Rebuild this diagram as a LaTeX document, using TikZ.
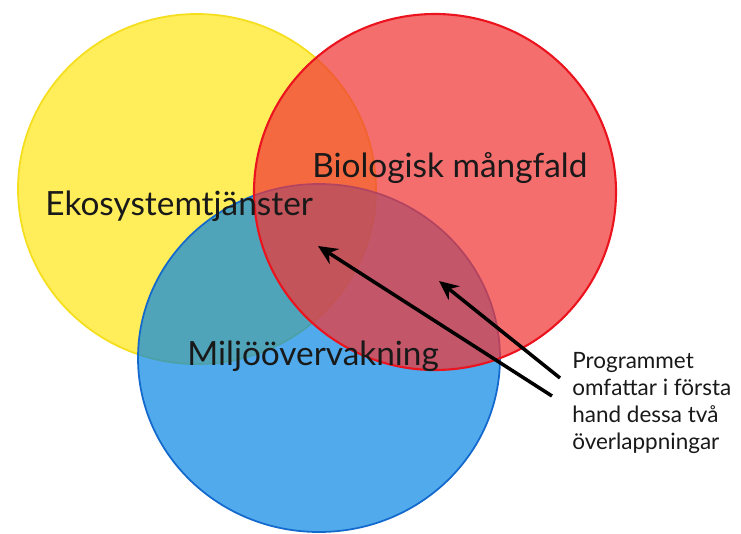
\documentclass[tikz,border=0pt]{standalone}
\usepackage{fontspec}
\setmainfont{Lato}
\usetikzlibrary{arrows.meta}
\definecolor{eko}{RGB}{255,238,90}
\definecolor{ekoline}{RGB}{245,222,30}
\definecolor{bio}{RGB}{241,54,54}
\definecolor{bioline}{RGB}{235,20,30}
\definecolor{milj}{RGB}{5,134,226}
\definecolor{miljline}{RGB}{20,105,205}

\begin{document}
\begin{tikzpicture}[x=0.02cm,y=-0.02cm,
    setlabel/.style={anchor=base west,inner sep=0pt,text=black!90,font=\fontsize{19}{22}\selectfont},
    note/.style={anchor=north west,align=left,inner sep=0pt,text=black!90,font=\fontsize{12.8}{15.3}\selectfont},
    pil/.style={line width=2pt,-{Stealth[length=11pt,width=10pt]}}]
	\useasboundingbox (0,0) rectangle (741,534);
	
	% sets
	\filldraw[fill=eko,draw=ekoline,line width=1pt] (197,189) ellipse [x radius=179,y radius=175];
	\filldraw[fill=milj,fill opacity=0.7,draw=miljline,line width=1pt] (319,358) ellipse [x radius=181,y radius=174];
	\filldraw[fill=bio,fill opacity=0.72,draw=bioline,line width=1.2pt] (435,192) ellipse [x radius=181,y radius=178];
	
	% labels
	\node[setlabel] (eko) at (45,215) {Ekosystemtjänster};
	\node[setlabel] (bio) at (312,177) {Biologisk mångfald};
	\node[setlabel] (milj) at (187,365) {Miljöövervakning};
	
	\node[note] (prog) at (572,352) {Programmet\\omfattar i första\\hand dessa två\\överlappningar};
	
	% arrows
	\coordinate (tail1) at (552,396);
	\coordinate (head1) at (318,246);
	\coordinate (tail2) at (560,378);
	\coordinate (head2) at (439,281);
	\draw[pil] (tail1) -- (head1);
	\draw[pil] (tail2) -- (head2);
	
\end{tikzpicture}
\end{document}
